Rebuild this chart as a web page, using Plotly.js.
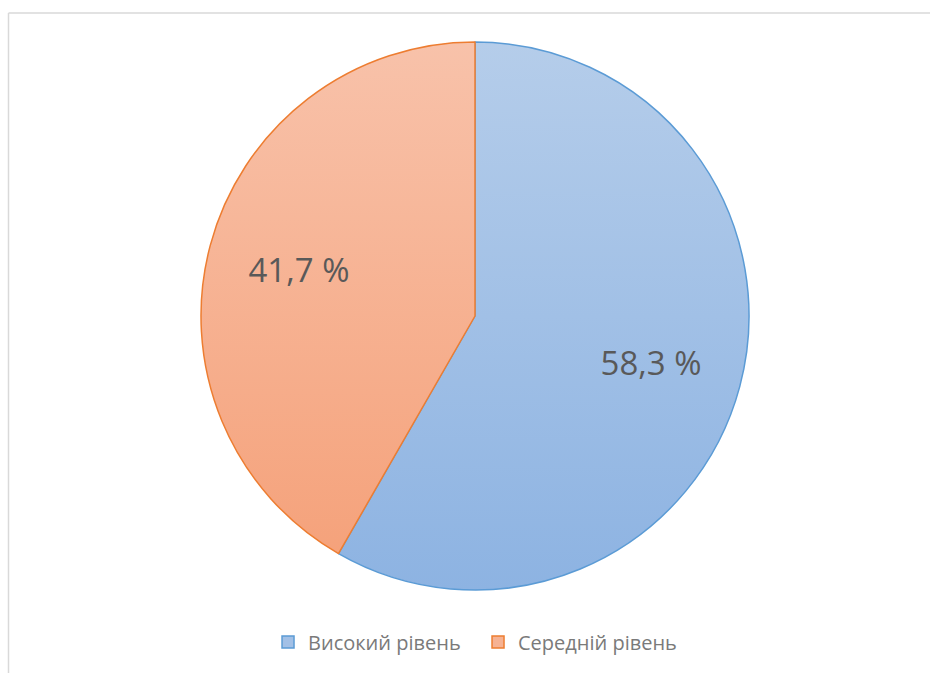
<!DOCTYPE html>
<html>
<head>
<meta charset="utf-8">
<script src="https://cdn.plot.ly/plotly-3.0.1.min.js"></script>
<style>
html,body{margin:0;padding:0;background:#fff;overflow:hidden;}
#chart{width:930px;height:673px;}
</style>
</head>
<body>
<div id="chart"></div>
<script>
var categories = ["Високий рівень", "Середній рівень"];
var values = [58.3, 41.7];
var fillColors = ["#a2c0e6", "#f6b293"];
var lineColors = ["#5b9bd5", "#ed7d31"];
var gradTop = ["#b5cdea", "#f8c2aa"];
var gradBottom = ["#8db3e2", "#f5a27b"];

var W = 930, H = 673;
var cx = 475, cy = 316, R = 274;
var dom = {x: [(cx - R) / W, (cx + R) / W], y: [(H - cy - R) / H, (H - cy + R) / H]};

var pieTrace = {
  type: "pie",
  labels: categories,
  values: values,
  sort: false,
  direction: "clockwise",
  rotation: 0,
  marker: {colors: fillColors, line: {color: lineColors, width: 1.5}},
  textinfo: "none",
  hoverinfo: "none",
  domain: dom
};

// transparent ring carrying the labels, so they sit further out like the reference
var labelTrace = {
  type: "pie",
  labels: categories,
  values: values,
  sort: false,
  direction: "clockwise",
  rotation: 0,
  hole: 0.33,
  showlegend: false,
  marker: {colors: ["rgba(0,0,0,0)", "rgba(0,0,0,0)"], line: {width: 0}},
  texttemplate: "%{value:.1f} %",
  textposition: "inside",
  insidetextorientation: "horizontal",
  textfont: {family: "Open Sans, sans-serif", size: 33, color: "#595959"},
  hoverinfo: "none",
  domain: dom
};

var layout = {
  width: W, height: H,
  margin: {l: 0, r: 0, t: 0, b: 0},
  paper_bgcolor: "#ffffff",
  separators: ", ",
  showlegend: true,
  legend: {
    orientation: "h", x: 0.514, xanchor: "center", y: (H - 642) / H, yanchor: "middle",
    font: {family: "Open Sans, sans-serif", size: 20, color: "#7a7a7a"},
    itemwidth: 30, traceorder: "normal", entrywidth: 165
  },
  shapes: [
    {type: "line", xref: "paper", yref: "paper", x0: 8.5 / W, x1: 8.5 / W, y0: 0, y1: (H - 13) / H, line: {color: "#d9d9d9", width: 1.5}},
    {type: "line", xref: "paper", yref: "paper", x0: 8.5 / W, x1: 1, y0: (H - 13) / H, y1: (H - 13) / H, line: {color: "#d9d9d9", width: 1.5}}
  ]
};

function applyGradients(gd) {
  var svg = gd.querySelector("svg.main-svg");
  if (!svg) return;
  var ns = "http://www.w3.org/2000/svg";
  var defs = svg.querySelector("defs");
  if (!defs) { defs = document.createElementNS(ns, "defs"); svg.insertBefore(defs, svg.firstChild); }
  for (var i = 0; i < categories.length; i++) {
    var id = "pieGrad" + i;
    if (!document.getElementById(id)) {
      var g = document.createElementNS(ns, "linearGradient");
      g.setAttribute("id", id);
      g.setAttribute("x1", "0"); g.setAttribute("y1", "0");
      g.setAttribute("x2", "0"); g.setAttribute("y2", "1");
      var s1 = document.createElementNS(ns, "stop");
      s1.setAttribute("offset", "0"); s1.setAttribute("stop-color", gradTop[i]);
      var s2 = document.createElementNS(ns, "stop");
      s2.setAttribute("offset", "1"); s2.setAttribute("stop-color", gradBottom[i]);
      g.appendChild(s1); g.appendChild(s2); defs.appendChild(g);
    }
  }
  var traces = gd.querySelectorAll("g.pielayer g.trace");
  if (traces.length) {
    traces[0].querySelectorAll("g.slice path.surface").forEach(function (p, i) {
      p.style.fill = "url(#pieGrad" + i + ")";
    });
  }
}

Plotly.newPlot("chart", [pieTrace, labelTrace], layout, {displayModeBar: false, staticPlot: true}).then(function (gd) {
  applyGradients(gd);
});
</script>
</body>
</html>
